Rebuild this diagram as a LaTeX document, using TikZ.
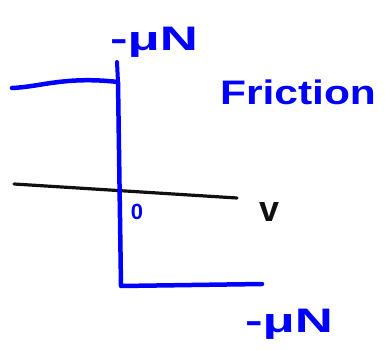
\documentclass[tikz,border=0pt]{standalone}
\usepackage{fontspec}
\setmainfont{Liberation Sans}
\usepackage{xcolor}
\usepackage{tikz}
\usetikzlibrary{positioning,calc}
\definecolor{stiftblau}{HTML}{0000FF}
\definecolor{stiftschwarz}{HTML}{101010}

\begin{document}
\begin{tikzpicture}[
    x=1pt,y=-1pt,
    kurve/.style  = {draw=stiftblau,line width=4.5pt,line cap=round,line join=round},
    achse/.style  = {draw=stiftschwarz,line width=3.2pt,line cap=round},
    etikett/.style = {text=stiftblau,inner sep=0pt,font=\fontsize{34}{36}\selectfont\bfseries},
  ]
  \useasboundingbox (0,0) rectangle (385,350);

  % ── Achse ───────────────────────────────────────────────────────────────
  \coordinate (al) at (14,184);
  \coordinate (ar) at (237,198);
  \draw[achse] (al) -- (ar);
  \node[text=stiftschwarz,inner sep=0pt,font=\fontsize{36}{36}\selectfont\bfseries] (v) at (270,212) {v};

  % ── Reibungskennlinie ───────────────────────────────────────────────────
  \coordinate (ol) at (12,88);
  \coordinate (om) at (118,82);
  \coordinate (ut) at (121,286);
  \coordinate (ur) at (262,284);
  \draw[kurve] (ol) .. controls (40,87) and (65,76) .. (om) -- (ut) -- (ur);
  \draw[kurve,line width=4pt] (117,62) -- (om);

  % ── Beschriftung ────────────────────────────────────────────────────────
  \node[etikett] (oben)  at (154,42)  {\scalebox{1.55}[1]{-μN}};
  \node[etikett] (unten) at (289,324) {\scalebox{1.55}[1]{-μN}};
  \node[etikett] (reib)  at (298,92)  {\scalebox{1.25}[1]{Friction}};
  \node[etikett,font=\fontsize{22}{22}\selectfont\bfseries] (null) at (137,212) {0};

\end{tikzpicture}
\end{document}
